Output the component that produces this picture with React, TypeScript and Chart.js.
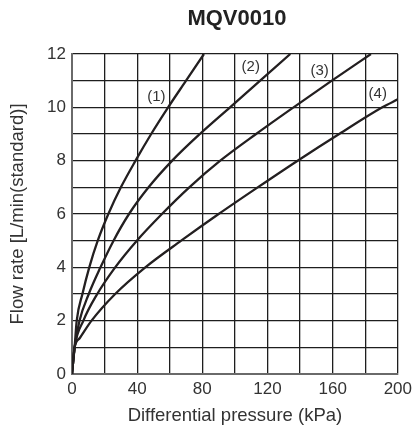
import React, { useEffect, useRef } from "react";
import { Chart, registerables } from "chart.js";

Chart.register(...registerables);

// Curve (1)
const pressure1 = [0, 0.6, 1.6, 2.9, 6.4, 10.6, 15.8, 22.3, 30, 39, 48.6, 59, 70, 81];
const flow1 = [0, 0.4, 1, 2, 3, 4, 5, 6, 7, 8, 9, 10, 11, 12];
// Curve (2)
const pressure2 = [0, 0.6, 1.6, 4.6, 10.3, 17.5, 25.5, 35, 47, 61.5, 78.5, 97, 115.5, 134];
const flow2 = [0, 0.4, 1, 2, 3, 4, 5, 6, 7, 8, 9, 10, 11, 12];
// Curve (3)
const pressure3 = [0, 0.6, 1.6, 7, 15.5, 26.5, 39.8, 55.2, 72, 91, 113, 136, 159.5, 183.5];
const flow3 = [0, 0.4, 1, 2, 3, 4, 5, 6, 7, 8, 9, 10, 11, 12];
// Curve (4)
const pressure4 = [0, 0.6, 1.6, 4.8, 12, 26.5, 45, 67, 90, 114, 138.5, 164, 190.5, 200];
const flow4 = [0, 0.4, 1, 1.35, 2, 3, 4, 5, 6, 7, 8, 9, 10, 10.3];

const curveNames = ["(1)", "(2)", "(3)", "(4)"];
const labelPressure = [51.8, 109.7, 152, 187.7];
const labelFlow = [10.4, 11.5, 11.35, 10.5];

const titleText = "MQV0010";
const xTitle = "Differential pressure (kPa)";
const yTitle = "Flow rate [L/min(standard)]";

const FONT = "'Liberation Sans', Arial, Helvetica, sans-serif";
const LINE = "#231f20";

function pts(xs: number[], ys: number[]) {
  return xs.map((x, i) => ({ x, y: ys[i] }));
}

export default function App() {
  const ref = useRef<HTMLCanvasElement | null>(null);

  useEffect(() => {
    if (!ref.current) return;
    const series = [
      pts(pressure1, flow1),
      pts(pressure2, flow2),
      pts(pressure3, flow3),
      pts(pressure4, flow4),
    ];

    const decor = {
      id: "decor",
      afterDatasetsDraw(chart: any) {
        const { ctx, chartArea, scales } = chart;
        ctx.save();
        ctx.fillStyle = "#333";
        ctx.font = `15px ${FONT}`;
        ctx.textAlign = "center";
        ctx.textBaseline = "middle";
        curveNames.forEach((n, i) => {
          ctx.fillText(
            n,
            scales.x.getPixelForValue(labelPressure[i]),
            scales.y.getPixelForValue(labelFlow[i])
          );
        });
        ctx.fillStyle = "#222";
        ctx.font = `bold 22px ${FONT}`;
        ctx.fillText(titleText, (chartArea.left + chartArea.right) / 2 + 2, 19);
        ctx.restore();
      },
    };

    const chart = new Chart(ref.current, {
      type: "line",
      data: {
        datasets: series.map((d, i) => ({
          label: curveNames[i],
          data: d,
          borderColor: LINE,
          borderWidth: 2.3,
          pointRadius: 0,
          fill: false,
          cubicInterpolationMode: "monotone" as const,
        })),
      },
      options: {
        animation: false,
        responsive: true,
        maintainAspectRatio: false,
        layout: { padding: { top: 54, right: 15, left: 0, bottom: 0 } },
        plugins: {
          legend: { display: false },
          tooltip: { enabled: false },
          title: { display: false },
        },
        scales: {
          x: {
            type: "linear",
            min: 0,
            max: 200,
            afterFit: (s: any) => {
              s.height = 56;
            },
            ticks: {
              stepSize: 20,
              autoSkip: false,
              maxRotation: 0,
              padding: 5,
              color: "#333",
              font: { family: FONT, size: 17 },
              callback: (v: any) => (Number(v) % 40 === 0 ? String(v) : ""),
            },
            grid: { color: "#1e1e1e", lineWidth: 1.3, drawTicks: false },
            border: { display: true, color: "#6a6a6a", width: 2 },
            title: {
              display: true,
              text: xTitle,
              color: "#333",
              font: { family: FONT, size: 18.5 },
              padding: { top: 3, bottom: 3 },
            },
          },
          y: {
            type: "linear",
            min: 0,
            max: 12,
            afterFit: (s: any) => {
              s.width = 72;
            },
            ticks: {
              stepSize: 1,
              autoSkip: false,
              padding: 6,
              color: "#333",
              font: { family: FONT, size: 17 },
              callback: (v: any) => (Number(v) % 2 === 0 ? String(v) : ""),
            },
            grid: { color: "#1e1e1e", lineWidth: 1.3, drawTicks: false },
            border: { display: true, color: "#6a6a6a", width: 2 },
            title: {
              display: true,
              text: yTitle,
              color: "#333",
              font: { family: FONT, size: 18.5 },
              padding: { top: 7, bottom: 7 },
            },
          },
        },
      },
      plugins: [decor],
    });
    return () => chart.destroy();
  }, []);

  return (
    <div
      style={{
        position: "fixed",
        left: 0,
        top: 0,
        width: 417,
        height: 430,
        background: "#fff",
      }}
    >
      <canvas ref={ref} />
    </div>
  );
}
